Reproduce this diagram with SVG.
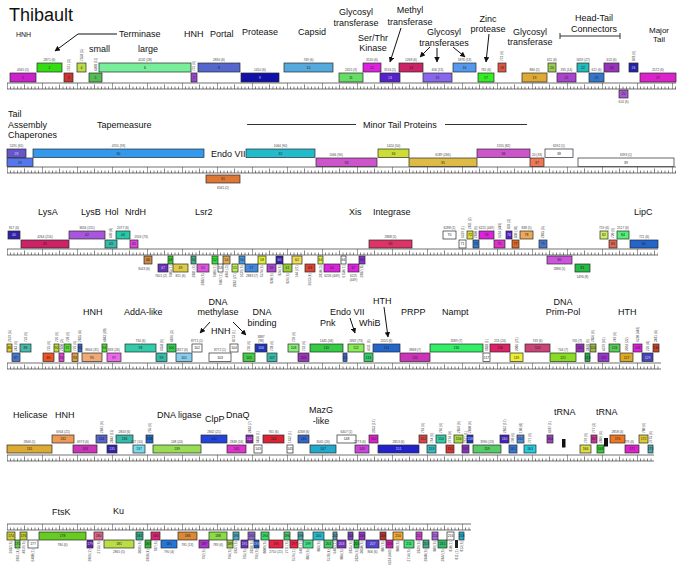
<svg xmlns="http://www.w3.org/2000/svg" width="683" height="576" viewBox="0 0 683 576">
<style>
text{font-family:"Liberation Sans",Arial,sans-serif}
.b{stroke:#2a2a2a;stroke-width:.7}
.n{font-size:3.4px;text-anchor:middle;fill:#222}
.nw{font-size:3.4px;text-anchor:middle;fill:#ddd}
.l{font-size:3.2px;text-anchor:middle;fill:#444}
.v{font-size:3.2px;fill:#444}
.vd{font-size:3.2px;fill:#444;text-anchor:end}
.t{font-size:9px;fill:#111}
.tm{font-size:9px;fill:#111;text-anchor:middle}
.ar{stroke:#111;stroke-width:1;fill:none;marker-end:url(#ah)}
.ln{stroke:#333;stroke-width:1;fill:none}
.rl{stroke:#333;stroke-width:.7;fill:none}
</style>
<defs>
<marker id="ah" viewBox="0 0 10 10" refX="9" refY="5" markerWidth="5.5" markerHeight="5.5" orient="auto"><path d="M0 0L10 5L0 10z" fill="#111"/></marker>
<pattern id="tk" x="7" y="0" width="35" height="6" patternUnits="userSpaceOnUse"><path d="M0.3 0V6M17.5 1.5V6M3.5 3.5V6M7 3.5V6M10.5 3.5V6M14 3.5V6M21 3.5V6M24.5 3.5V6M28 3.5V6M31.5 3.5V6" stroke="#333" stroke-width=".6"/></pattern>
</defs>
<rect width="683" height="576" fill="#fff"/>

<g id="labels">
<text x="9" y="21" style="font-size:18px;fill:#111">Thibault</text>
<text x="16" y="37" style="font-size:7px;fill:#111">HNH</text>
<text class="t" x="119" y="37">Terminase</text>
<text class="t" x="89" y="52">small</text>
<text class="t" x="138" y="52">large</text>
<text class="t" x="184" y="37">HNH</text>
<text class="t" x="210" y="37">Portal</text>
<text class="t" x="242" y="35">Protease</text>
<text class="t" x="298" y="35">Capsid</text>
<text class="tm" x="356" y="15">Glycosyl</text><text class="tm" x="356" y="26">transferase</text>
<text class="tm" x="373" y="41">Ser/Thr</text><text class="tm" x="373" y="51">Kinase</text>
<text class="tm" x="410" y="13">Methyl</text><text class="tm" x="410" y="25">transferase</text>
<text class="tm" x="444" y="35">Glycosyl</text><text class="tm" x="444" y="46">transferases</text>
<text class="tm" x="488" y="22">Zinc</text><text class="tm" x="488" y="32">protease</text>
<text class="tm" x="530" y="35">Glycosyl</text><text class="tm" x="530" y="45">transferase</text>
<text class="tm" x="594" y="21">Head-Tail</text><text class="tm" x="594" y="32">Connectors</text>
<path class="ln" d="M560 36H620M560 33V39M620 33V39"/>
<text x="659" y="33" style="font-size:8px;fill:#111;text-anchor:middle">Major</text><text x="659" y="42" style="font-size:8px;fill:#111;text-anchor:middle">Tail</text>

<text class="t" x="8" y="117">Tail</text><text class="t" x="8" y="128">Assembly</text><text class="t" x="8" y="138">Chaperones</text>
<text class="t" x="97" y="128">Tapemeasure</text>
<path class="ln" d="M247 124.5H356M445 124.5H527"/>
<text class="t" x="363" y="128">Minor Tail Proteins</text>
<text class="t" x="211" y="157">Endo VII</text>

<text class="t" x="38" y="215">LysA</text>
<text class="t" x="81" y="215">LysB</text>
<text class="t" x="105" y="215">Hol</text>
<text class="t" x="125" y="215">NrdH</text>
<text class="t" x="195" y="215">Lsr2</text>
<text class="t" x="349" y="215">Xis</text>
<text class="t" x="373" y="215">Integrase</text>
<text class="t" x="634" y="215">LipC</text>

<text class="t" x="83" y="315">HNH</text>
<text class="t" x="124" y="315">AddA-like</text>
<text class="tm" x="218" y="305">DNA</text><text class="tm" x="218" y="315">methylase</text>
<text class="t" x="211" y="334">HNH</text>
<text class="tm" x="262" y="315">DNA</text><text class="tm" x="262" y="326">binding</text>
<text class="t" x="330" y="315">Endo VII</text>
<text class="t" x="320" y="326">Pnk</text>
<text class="t" x="359" y="326">WhiB</text>
<text class="t" x="373" y="304">HTH</text>
<text class="t" x="401" y="315">PRPP</text>
<text class="t" x="442" y="315">Nampt</text>
<text class="tm" x="563" y="305">DNA</text><text class="tm" x="563" y="315">Prim-Pol</text>
<text class="t" x="618" y="315">HTH</text>

<text class="t" x="13" y="418">Helicase</text>
<text class="t" x="55" y="418">HNH</text>
<text class="t" x="157" y="418">DNA ligase</text>
<text class="t" x="205" y="422">ClpP</text>
<text class="t" x="226" y="418">DnaQ</text>
<text class="tm" x="321" y="413">MazG</text><text class="tm" x="321" y="424">-like</text>
<text class="t" x="554" y="415">tRNA</text>
<text class="t" x="596" y="415">tRNA</text>

<text class="t" x="52" y="515">FtsK</text>
<text class="t" x="113" y="514">Ku</text>
</g>

<g id="connectors">
<path class="ar" d="M117 34H78L55 51"/>
<path class="ar" d="M401 28L390 62"/>
<path class="ar" d="M430 47L420 57"/>
<path class="ar" d="M437 48V62"/>
<path class="ar" d="M453 47L465 57"/>
<path class="ar" d="M489 34L486 62"/>
<path class="ar" d="M210 322L200 333"/>
<path class="ar" d="M233 322L246 335"/>
<path class="ar" d="M350 318L355 333"/>
<path class="ar" d="M384 307L388 337"/>
</g>

<g id="rulers">
<g transform="translate(0,83)"><rect x="7" width="669" height="6" fill="url(#tk)"/><path class="rl" d="M7 0H676M7 6H676"/></g>
<g transform="translate(0,167)"><rect x="7" width="669" height="6" fill="url(#tk)"/><path class="rl" d="M7 0H676M7 6H676"/></g>
<g transform="translate(0,249)"><rect x="7" width="651" height="6" fill="url(#tk)"/><path class="rl" d="M7 0H658M7 6H658"/></g>
<g transform="translate(0,363)"><rect x="7" width="654" height="6" fill="url(#tk)"/><path class="rl" d="M7 0H661M7 6H661"/></g>
<g transform="translate(0,455)"><rect x="7" width="647" height="6" fill="url(#tk)"/><path class="rl" d="M7 0H654M7 6H654"/></g>
<g transform="translate(0,524)"><rect x="7" width="464" height="6" fill="url(#tk)"/><path class="rl" d="M7 0H471M7 6H471"/></g>
</g>

<g id="g1"><rect class="b" x="10" y="73" width="26" height="9" fill="#cc22cc"/><text class="n" x="23" y="78.7">1</text><text class="l" x="23" y="71">4345 (5)</text></g>
<g id="g2"><rect class="b" x="37" y="63" width="25" height="9" fill="#33dd11"/><text class="n" x="49.5" y="68.7">2</text><text class="l" x="49.5" y="61">2871 (6)</text></g>
<g id="g3"><rect class="b" x="64" y="73" width="9" height="9" fill="#cc3333"/><text class="n" x="68.5" y="78.7">3</text><text class="v" transform="translate(69.7,71) rotate(-90)">7571 (3)</text></g>
<g id="g4"><rect class="b" x="77" y="63" width="9" height="9" fill="#bbdd44"/><text class="n" x="81.5" y="68.7">4</text><text class="v" transform="translate(82.7,61) rotate(-90)">7558 (5)</text></g>
<g id="g5"><rect class="b" x="89" y="73" width="13" height="9" fill="#55bb55"/><text class="n" x="95.5" y="78.7">5</text><text class="v" transform="translate(96.7,71) rotate(-90)">4208 (11)</text></g>
<g id="g6"><rect class="b" x="99" y="63" width="92" height="9" fill="#77ee99"/><text class="n" x="145" y="68.7">6</text><text class="l" x="145" y="61">4132 (28)</text></g>
<g id="g7"><rect class="b" x="191" y="73" width="6" height="9" fill="#9944cc"/><text class="n" x="194" y="78.7">7</text><text class="v" transform="translate(195.2,71) rotate(-90)">731 (6)</text></g>
<g id="g8"><rect class="b" x="198" y="63" width="42" height="9" fill="#5566cc"/><text class="n" x="219" y="68.7">8</text><text class="l" x="219" y="61">2830 (6)</text></g>
<g id="g9"><rect class="b" x="241" y="73" width="38" height="9" fill="#1111aa"/><text class="nw" x="260" y="78.7">9</text><text class="l" x="260" y="71">1450 (6)</text></g>
<g id="g10"><rect class="b" x="284" y="63" width="49" height="9" fill="#55aadd"/><text class="n" x="308.5" y="68.7">10</text><text class="l" x="308.5" y="61">749 (6)</text></g>
<g id="g11"><rect class="b" x="339" y="73" width="24" height="9" fill="#66dd66"/><text class="n" x="351" y="78.7">11</text><text class="l" x="351" y="71">2455 (3)</text></g>
<g id="g12"><rect class="b" x="363" y="63" width="18" height="9" fill="#dd22dd"/><text class="n" x="372" y="68.7">12</text><text class="l" x="372" y="61">3130 (6)</text></g>
<g id="g13"><rect class="b" x="380" y="73" width="20" height="9" fill="#5522cc"/><text class="nw" x="390" y="78.7">13</text><text class="l" x="390" y="71">3156 (5)</text></g>
<g id="g14"><rect class="b" x="399" y="63" width="24" height="9" fill="#cc2266"/><text class="n" x="411" y="68.7">14</text><text class="l" x="411" y="61">1268 (6)</text></g>
<g id="g15"><rect class="b" x="423" y="73" width="29" height="9" fill="#8866ee"/><text class="n" x="437.5" y="78.7">15</text><text class="l" x="437.5" y="71">456 (13)</text></g>
<g id="g16"><rect class="b" x="453" y="63" width="23" height="9" fill="#5599ee"/><text class="n" x="464.5" y="68.7">16</text><text class="l" x="464.5" y="61">1876 (13)</text></g>
<g id="g17"><rect class="b" x="478" y="73" width="16" height="9" fill="#33ee22"/><text class="n" x="486" y="78.7">17</text><text class="l" x="486" y="71">765 (6)</text></g>
<g id="g18"><rect class="b" x="498" y="63" width="8" height="9" fill="#dd5544"/><text class="n" x="502" y="68.7">18</text><text class="v" transform="translate(503.2,61) rotate(-90)">773 (6)</text></g>
<g id="g19"><rect class="b" x="522" y="73" width="25" height="9" fill="#ddaa33"/><text class="n" x="534.5" y="78.7">19</text><text class="l" x="534.5" y="71">884 (5)</text></g>
<g id="g20"><rect class="b" x="548" y="63" width="8" height="9" fill="#99cc55"/><text class="n" x="552" y="68.7">20</text><text class="l" x="552" y="61">611 (6)</text></g>
<g id="g21"><rect class="b" x="557" y="73" width="19" height="9" fill="#aa44cc"/><text class="n" x="566.5" y="78.7">21</text><text class="l" x="566.5" y="71">335 (14)</text></g>
<g id="g22"><rect class="b" x="577" y="63" width="12" height="9" fill="#22bbbb"/><text class="n" x="583" y="68.7">22</text><text class="l" x="583" y="61">1659 (27)</text></g>
<g id="g23"><rect class="b" x="589" y="73" width="15" height="9" fill="#3377cc"/><text class="n" x="596.5" y="78.7">23</text><text class="l" x="596.5" y="71">612 (6)</text></g>
<g id="g24"><rect class="b" x="604" y="63" width="15" height="9" fill="#9933bb"/><text class="n" x="611.5" y="68.7">24</text><text class="l" x="611.5" y="61">613 (6)</text></g>
<g id="g25"><rect class="b" x="619" y="90" width="9" height="8" fill="#aa55cc"/><text class="n" x="623.5" y="95.2">25</text><text class="l" x="623.5" y="102.5">614 (6)</text></g>
<g id="g26"><rect class="b" x="629" y="63" width="9" height="9" fill="#2222aa"/><text class="nw" x="633.5" y="68.7">26</text><text class="v" transform="translate(634.7,61) rotate(-90)">878 (6)</text></g>
<g id="g27"><rect class="b" x="640" y="73" width="36" height="9" fill="#dd22cc"/><text class="n" x="658" y="78.7">27</text><text class="l" x="658" y="71">2572 (6)</text></g>

<g id="g28"><rect class="b" x="7" y="149" width="19" height="8.5" fill="#6655cc"/><text class="nw" x="16.5" y="154.5">28</text><text class="l" x="16.5" y="147">5291 (65)</text></g>
<g id="g29"><rect class="b" x="7" y="158" width="26" height="8.5" fill="#5577ee"/><text class="n" x="20" y="163.5">29</text></g>
<g id="g30"><rect class="b" x="33" y="149" width="171" height="8.5" fill="#3399ee"/><text class="n" x="118.5" y="154.5">30</text><text class="l" x="118.5" y="147">4701 (93)</text></g>
<g id="g31"><rect class="b" x="206" y="175" width="34" height="8" fill="#dd7733"/><text class="n" x="223" y="180.2">31</text><text class="l" x="223" y="188.5">6565 (2)</text></g>
<g id="g32"><rect class="b" x="246" y="149" width="69" height="8.5" fill="#22bbcc"/><text class="n" x="280.5" y="154.5">32</text><text class="l" x="280.5" y="147">1064 (90)</text></g>
<g id="g33"><rect class="b" x="316" y="158" width="61" height="8.5" fill="#cc55cc"/><text class="n" x="346.5" y="163.5">33</text><text class="l" x="336" y="156">1066 (90)</text></g>
<g id="g34"><rect class="b" x="378" y="149" width="31" height="8.5" fill="#ccdd33"/><text class="n" x="393.5" y="154.5">34</text><text class="l" x="393.5" y="147">1424 (50)</text></g>
<g id="g35"><rect class="b" x="409" y="158" width="68" height="8.5" fill="#ddbb44"/><text class="n" x="443" y="163.5">35</text><text class="l" x="443" y="156">6189 (266)</text></g>
<g id="g36"><rect class="b" x="477" y="149" width="53" height="8.5" fill="#cc55cc"/><text class="n" x="503.5" y="154.5">36</text><text class="l" x="503.5" y="147">1555 (82)</text></g>
<g id="g37"><rect class="b" x="530" y="158" width="14" height="8.5" fill="#ee7755"/><text class="n" x="537" y="163.5">37</text><text class="l" x="537" y="156">20 (33)</text></g>
<g id="g38"><rect class="b" x="545" y="149" width="28" height="8.5" fill="#fff"/><text class="n" x="559" y="154.5">38</text><text class="l" x="559" y="147">6592 (1)</text></g>
<g id="g39"><rect class="b" x="578" y="158" width="96" height="8.5" fill="#fff"/><text class="n" x="626" y="163.5">39</text><text class="l" x="626" y="156">6393 (1)</text></g>

<g id="g40"><rect class="b" x="8" y="231" width="12" height="8" fill="#3322aa"/><text class="nw" x="14" y="236.2">40</text><text class="l" x="14" y="229">817 (6)</text></g>
<g id="g41"><rect class="b" x="21" y="240" width="48" height="8" fill="#cc2266"/><text class="n" x="45" y="245.2">41</text><text class="l" x="45" y="238">4264 (216)</text></g>
<g id="g42"><rect class="b" x="69" y="231" width="36" height="8" fill="#aa55dd"/><text class="n" x="87" y="236.2">42</text><text class="l" x="87" y="229">3634 (155)</text></g>
<g id="g43"><rect class="b" x="105" y="240" width="12" height="8" fill="#33bbaa"/><text class="n" x="111" y="245.2">43</text><text class="v" transform="translate(112.2,238) rotate(-90)">470 (8)</text></g>
<g id="g44"><rect class="b" x="116" y="231" width="14" height="8" fill="#22ccaa"/><text class="n" x="123" y="236.2">44</text><text class="l" x="123" y="229">2077 (6)</text></g>
<g id="g45"><rect class="b" x="130" y="240" width="8" height="8" fill="#dd44dd"/><text class="n" x="134" y="245.2">45</text><text class="l" x="141" y="238">1924 (73)</text></g>
<g id="g46"><rect class="b" x="144" y="256" width="8" height="8" fill="#cc8844"/><text class="n" x="148" y="261.2">46</text><text class="l" x="144" y="269.5">3043 (6)</text></g>
<g id="g47"><rect class="b" x="158" y="264" width="10" height="8" fill="#6633bb"/><text class="nw" x="163" y="269.2">47</text><text class="l" x="161" y="276.5">7601 (2)</text></g>
<g id="g48"><rect class="b" x="168" y="256" width="5" height="8" fill="#33cc33"/><text class="n" x="170.5" y="261.2">48</text><text class="vd" transform="translate(171.7,265.5) rotate(-90)">7605 (1)</text></g>
<g id="g49"><rect class="b" x="173" y="264" width="15" height="8" fill="#ddcc44"/><text class="n" x="180.5" y="269.2">49</text><text class="l" x="180.5" y="276.5">821 (6)</text></g>
<g id="g50"><rect class="b" x="191" y="256" width="5" height="8" fill="#44aa88"/><text class="n" x="193.5" y="261.2">50</text><text class="vd" transform="translate(194.7,265.5) rotate(-90)">2881 (6)</text></g>
<g id="g51"><rect class="b" x="197" y="264" width="12" height="8" fill="#dd55dd"/><text class="n" x="203" y="269.2">51</text><text class="vd" transform="translate(204.2,273.5) rotate(-90)">2882 (6)</text></g>
<g id="g52"><rect class="b" x="212" y="256" width="6" height="8" fill="#33dd33"/><text class="n" x="215" y="261.2">52</text><text class="vd" transform="translate(216.2,265.5) rotate(-90)">7606 (1)</text></g>
<g id="g53"><rect class="b" x="218" y="264" width="5" height="8" fill="#fff"/><text class="n" x="220.5" y="269.2">53</text><text class="vd" transform="translate(221.7,273.5) rotate(-90)">7607 (1)</text></g>
<g id="g54"><rect class="b" x="223" y="256" width="7" height="8" fill="#ddaa55"/><text class="n" x="226.5" y="261.2">54</text><text class="vd" transform="translate(227.7,265.5) rotate(-90)">4861 (3)</text></g>
<g id="g55"><rect class="b" x="232" y="264" width="6" height="8" fill="#bbee55"/><text class="n" x="235" y="269.2">55</text><text class="vd" transform="translate(236.2,273.5) rotate(-90)">2882 (27)</text></g>
<g id="g56"><rect class="b" x="239" y="256" width="6" height="8" fill="#4499dd"/><text class="n" x="242" y="261.2">56</text><text class="vd" transform="translate(243.2,265.5) rotate(-90)">1639 (6)</text></g>
<g id="g57"><rect class="b" x="245" y="264" width="13" height="8" fill="#4488dd"/><text class="n" x="251.5" y="269.2">57</text><text class="l" x="252" y="276.5">2883 (7)</text></g>
<g id="g58"><rect class="b" x="258" y="256" width="8" height="8" fill="#ddee33"/><text class="n" x="262" y="261.2">58</text><text class="vd" transform="translate(263.2,265.5) rotate(-90)">7574 (6)</text></g>
<g id="g59"><rect class="b" x="267" y="264" width="9" height="8" fill="#aa44cc"/><text class="n" x="271.5" y="269.2">59</text><text class="vd" transform="translate(272.7,273.5) rotate(-90)">820 (6)</text></g>
<g id="g60"><rect class="b" x="276" y="256" width="7" height="8" fill="#3322aa"/><text class="nw" x="279.5" y="261.2">60</text><text class="vd" transform="translate(280.7,265.5) rotate(-90)">824 (6)</text></g>
<g id="g61"><rect class="b" x="283" y="264" width="9" height="8" fill="#99cc33"/><text class="n" x="287.5" y="269.2">61</text><text class="vd" transform="translate(288.7,273.5) rotate(-90)">826 (6)</text></g>
<g id="g62"><rect class="b" x="292" y="256" width="10" height="8" fill="#eedd55"/><text class="n" x="297" y="261.2">62</text><text class="vd" transform="translate(298.2,265.5) rotate(-90)">144 (21)</text></g>
<g id="g63"><rect class="b" x="305" y="264" width="10" height="8" fill="#dd4433"/><text class="n" x="310" y="269.2">63</text><text class="vd" transform="translate(311.2,273.5) rotate(-90)">3623 (4)</text></g>
<g id="g64"><rect class="b" x="318" y="256" width="5" height="8" fill="#ddee44"/><text class="n" x="320.5" y="261.2">64</text><text class="vd" transform="translate(321.7,265.5) rotate(-90)">2810 (3)</text></g>
<g id="g65"><rect class="b" x="324" y="264" width="16" height="8" fill="#dd22dd"/><text class="n" x="332" y="269.2">65</text><text class="l" x="332" y="276.5">6226 (449)</text></g>
<g id="g66"><rect class="b" x="341" y="256" width="5" height="8" fill="#fff"/><text class="n" x="343.5" y="261.2">66</text><text class="vd" transform="translate(344.7,265.5) rotate(-90)">6750 (1)</text></g>
<g id="g67"><rect class="b" x="348" y="264" width="11" height="8" fill="#dd22dd"/><text class="n" x="353.5" y="269.2">67</text><text class="l" x="353.5" y="276.5">6225</text><text class="l" x="353.5" y="280.5">(449)</text></g>
<g id="g68"><rect class="b" x="359" y="256" width="6" height="8" fill="#8833cc"/><text class="n" x="362" y="261.2">68</text><text class="vd" transform="translate(363.2,265.5) rotate(-90)">2887 (8)</text></g>
<g id="g69"><rect class="b" x="369" y="240" width="43" height="8" fill="#dd3366"/><text class="n" x="390.5" y="245.2">69</text><text class="l" x="390.5" y="238">2888 (5)</text></g>
<g id="g70"><rect class="b" x="443" y="231" width="13" height="8" fill="#fff"/><text class="n" x="449.5" y="236.2">70</text><text class="l" x="449.5" y="229">6288 (1)</text></g>
<g id="g71"><rect class="b" x="459" y="240" width="7" height="8" fill="#fff"/><text class="n" x="462.5" y="245.2">71</text><text class="v" transform="translate(463.7,238) rotate(-90)">6239 (1)</text></g>
<g id="g72"><rect class="b" x="467" y="231" width="6" height="8" fill="#dddd33"/><text class="n" x="470" y="236.2">72</text><text class="v" transform="translate(471.2,229) rotate(-90)">2811 (2)</text></g>
<g id="g73"><rect class="b" x="473" y="240" width="6" height="8" fill="#3377cc"/><text class="n" x="476" y="245.2">73</text><text class="v" transform="translate(477.2,238) rotate(-90)">2890 (6)</text></g>
<g id="g74"><rect class="b" x="479" y="231" width="15" height="8" fill="#dd22dd"/><text class="n" x="486.5" y="236.2">74</text><text class="l" x="486.5" y="229">6225 (449)</text></g>
<g id="g75"><rect class="b" x="494" y="240" width="11" height="8" fill="#dd33cc"/><text class="n" x="499.5" y="245.2">75</text><text class="v" transform="translate(500.7,238) rotate(-90)">6224 (449)</text></g>
<g id="g76"><rect class="b" x="506" y="231" width="6" height="8" fill="#5522cc"/><text class="nw" x="509" y="236.2">76</text><text class="v" transform="translate(510.2,229) rotate(-90)">839 (3)</text></g>
<g id="g77"><rect class="b" x="512" y="240" width="7" height="8" fill="#dd6622"/><text class="n" x="515.5" y="245.2">77</text><text class="v" transform="translate(516.7,238) rotate(-90)">830 (18)</text></g>
<g id="g78"><rect class="b" x="520" y="231" width="13" height="8" fill="#eeaa55"/><text class="n" x="526.5" y="236.2">78</text><text class="l" x="526.5" y="229">838 (5)</text></g>
<g id="g79"><rect class="b" x="539" y="240" width="8" height="8" fill="#4477cc"/><text class="n" x="543" y="245.2">79</text><text class="v" transform="translate(544.2,238) rotate(-90)">2895 (5)</text></g>
<g id="g80"><rect class="b" x="547" y="256" width="25" height="8" fill="#cc55dd"/><text class="n" x="559.5" y="261.2">80</text><text class="l" x="559.5" y="269.5">2886 (5)</text></g>
<g id="g81"><rect class="b" x="575" y="264" width="15" height="8" fill="#22bb44"/><text class="n" x="582.5" y="269.2">81</text><text class="l" x="582.5" y="277.5">1496 (8)</text></g>
<g id="g82"><rect class="b" x="600" y="231" width="8" height="8" fill="#ccee66"/><text class="n" x="604" y="236.2">82</text><text class="l" x="604" y="229">719 (6)</text></g>
<g id="g83"><rect class="b" x="609" y="240" width="8" height="8" fill="#dd6655"/><text class="n" x="613" y="245.2">83</text><text class="v" transform="translate(614.2,238) rotate(-90)">720 (6)</text></g>
<g id="g84"><rect class="b" x="617" y="231" width="12" height="8" fill="#55ee77"/><text class="n" x="623" y="236.2">84</text><text class="l" x="623" y="229">2517 (6)</text></g>
<g id="g85"><rect class="b" x="630" y="240" width="28" height="8" fill="#2266cc"/><text class="n" x="644" y="245.2">85</text><text class="l" x="644" y="238">721 (6)</text></g>

<g id="g86"><rect class="b" x="7" y="344" width="5" height="8" fill="#ddcc33"/><text class="n" x="9.5" y="349.2">86</text><text class="v" transform="translate(10.7,342) rotate(-90)">2619 (5)</text></g>
<g id="g87"><rect class="b" x="12" y="353" width="8" height="8.5" fill="#4477cc"/><text class="n" x="16" y="358.5">87</text><text class="v" transform="translate(17.2,351) rotate(-90)">243 (6)</text></g>
<g id="g88"><rect class="b" x="20" y="344" width="11" height="8" fill="#44bbaa"/><text class="n" x="25.5" y="349.2">88</text><text class="v" transform="translate(26.7,342) rotate(-90)">723 (6)</text></g>
<g id="g89"><rect class="b" x="43" y="353" width="11" height="8.5" fill="#ee5522"/><text class="n" x="48.5" y="358.5">89</text><text class="v" transform="translate(49.7,351) rotate(-90)">725 (6)</text></g>
<g id="g90"><rect class="b" x="54" y="344" width="5" height="8" fill="#bbdd33"/><text class="n" x="56.5" y="349.2">90</text><text class="v" transform="translate(57.7,342) rotate(-90)">726 (6)</text></g>
<g id="g91"><rect class="b" x="59" y="353" width="5" height="8.5" fill="#dd44cc"/><text class="n" x="61.5" y="358.5">91</text><text class="v" transform="translate(62.7,351) rotate(-90)">2820 (3)</text></g>
<g id="g92"><rect class="b" x="64" y="344" width="7" height="8" fill="#55dd33"/><text class="n" x="67.5" y="349.2">92</text><text class="v" transform="translate(68.7,342) rotate(-90)">728 (6)</text></g>
<g id="g93"><rect class="b" x="72" y="353" width="6" height="8.5" fill="#dd9944"/><text class="n" x="75" y="358.5">93</text><text class="v" transform="translate(76.2,351) rotate(-90)">729 (6)</text></g>
<g id="g94"><rect class="b" x="78" y="344" width="4" height="8" fill="#3366cc"/><text class="n" x="80" y="349.2">94</text><text class="v" transform="translate(81.2,342) rotate(-90)">2825 (4)</text></g>
<g id="g95"><rect class="b" x="82" y="353" width="20" height="8.5" fill="#eeaa77"/><text class="n" x="92" y="358.5">95</text><text class="l" x="92" y="351">8844 (31)</text></g>
<g id="g96"><rect class="b" x="102" y="344" width="5" height="8" fill="#55dd33"/><text class="n" x="104.5" y="349.2">96</text><text class="v" transform="translate(105.7,342) rotate(-90)">4843 (20)</text></g>
<g id="g97"><rect class="b" x="107" y="353" width="14" height="8.5" fill="#ee66ee"/><text class="n" x="114" y="358.5">97</text><text class="l" x="114" y="351">833 (26)</text></g>
<g id="g98"><rect class="b" x="125" y="344" width="31" height="8" fill="#33ccaa"/><text class="n" x="140.5" y="349.2">98</text><text class="l" x="140.5" y="342">734 (6)</text></g>
<g id="g99"><rect class="b" x="156" y="353" width="11" height="8.5" fill="#33bbaa"/><text class="n" x="161.5" y="358.5">99</text><text class="v" transform="translate(162.7,351) rotate(-90)">6558 (6)</text></g>
<g id="g100"><rect class="b" x="167" y="344" width="9" height="8" fill="#33cc55"/><text class="n" x="171.5" y="349.2">100</text><text class="v" transform="translate(172.7,342) rotate(-90)">4876 (3)</text></g>
<g id="g101"><rect class="b" x="176" y="353" width="16" height="8.5" fill="#88ccee"/><text class="n" x="184" y="358.5">101</text><text class="l" x="182" y="351">2827 (6)</text></g>
<g id="g102"><rect class="b" x="192" y="344" width="10" height="8" fill="#fff"/><text class="n" x="197" y="349.2">102</text><text class="l" x="197" y="342">8771 (1)</text></g>
<g id="g103"><rect class="b" x="209" y="353" width="22" height="8.5" fill="#fff"/><text class="n" x="220" y="358.5">103</text><text class="l" x="220" y="351">8772 (1)</text></g>
<g id="g104"><rect class="b" x="230" y="344" width="8" height="8" fill="#fff"/><text class="n" x="234" y="349.2">104</text><text class="v" transform="translate(235.2,342) rotate(-90)">8773 (1)</text></g>
<g id="g105"><rect class="b" x="243" y="353" width="12" height="8.5" fill="#44cc44"/><text class="n" x="249" y="358.5">105</text><text class="v" transform="translate(250.2,351) rotate(-90)">736 (6)</text></g>
<g id="g106"><rect class="b" x="255" y="344" width="12" height="8" fill="#2233bb"/><text class="nw" x="261" y="349.2">106</text><text class="l" x="261" y="337.5">3887</text><text class="l" x="261" y="342">(98)</text></g>
<g id="g107"><rect class="b" x="267" y="353" width="10" height="8.5" fill="#33bbaa"/><text class="n" x="272" y="358.5">107</text><text class="v" transform="translate(273.2,351) rotate(-90)">738 (6)</text></g>
<g id="g108"><rect class="b" x="288" y="344" width="11" height="8" fill="#88ee77"/><text class="n" x="293.5" y="349.2">108</text><text class="v" transform="translate(294.7,342) rotate(-90)">739 (6)</text></g>
<g id="g109"><rect class="b" x="298" y="353" width="11" height="8.5" fill="#9933bb"/><text class="n" x="303.5" y="358.5">109</text><text class="v" transform="translate(304.7,351) rotate(-90)">732 (6)</text></g>
<g id="g110"><rect class="b" x="310" y="344" width="33" height="8" fill="#33cc44"/><text class="n" x="326.5" y="349.2">110</text><text class="l" x="326.5" y="342">1445 (34)</text></g>
<g id="g111"><rect class="b" x="343" y="353" width="4" height="8.5" fill="#3366cc"/><text class="n" x="345" y="358.5">111</text></g>
<g id="g112"><rect class="b" x="348" y="344" width="16" height="8" fill="#88ee55"/><text class="n" x="356" y="349.2">112</text><text class="l" x="356" y="342">1832 (73)</text></g>
<g id="g113"><rect class="b" x="364" y="353" width="9" height="8.5" fill="#33cc66"/><text class="n" x="368.5" y="358.5">113</text><text class="v" transform="translate(369.7,351) rotate(-90)">4311 (6)</text></g>
<g id="g114"><rect class="b" x="373" y="344" width="27" height="8" fill="#2266cc"/><text class="n" x="386.5" y="349.2">114</text><text class="l" x="386.5" y="342">2555 (6)</text></g>
<g id="g115"><rect class="b" x="400" y="353" width="30" height="8.5" fill="#cc33bb"/><text class="n" x="415" y="358.5">115</text><text class="l" x="415" y="351">3868 (7)</text></g>
<g id="g116"><rect class="b" x="430" y="344" width="53" height="8" fill="#33ee66"/><text class="n" x="456.5" y="349.2">116</text><text class="l" x="456.5" y="342">3589 (7)</text></g>
<g id="g117"><rect class="b" x="483" y="353" width="7" height="8.5" fill="#fff"/><text class="n" x="486.5" y="358.5">117</text><text class="v" transform="translate(487.7,351) rotate(-90)">6838 (1)</text></g>
<g id="g118"><rect class="b" x="490" y="344" width="20" height="8" fill="#dd2266"/><text class="n" x="500" y="349.2">118</text><text class="l" x="500" y="342">253 (24)</text></g>
<g id="g119"><rect class="b" x="510" y="353" width="13" height="8.5" fill="#eeee33"/><text class="n" x="516.5" y="358.5">119</text><text class="v" transform="translate(517.7,351) rotate(-90)">2086 (21)</text></g>
<g id="g120"><rect class="b" x="525" y="344" width="25" height="8" fill="#cc4477"/><text class="n" x="537.5" y="349.2">120</text><text class="l" x="537.5" y="342">743 (6)</text></g>
<g id="g121"><rect class="b" x="550" y="353" width="26" height="8.5" fill="#88dd22"/><text class="n" x="563" y="358.5">121</text><text class="l" x="563" y="351">744 (7)</text></g>
<g id="g122"><rect class="b" x="576" y="344" width="8" height="8" fill="#9933bb"/><text class="n" x="580" y="349.2">122</text><text class="l" x="577" y="342">745 (7)</text></g>
<g id="g123"><rect class="b" x="585" y="353" width="5" height="8.5" fill="#22aa44"/><text class="n" x="587.5" y="358.5">123</text><text class="v" transform="translate(588.7,351) rotate(-90)">3468 (6)</text></g>
<g id="g124"><rect class="b" x="590" y="344" width="6" height="8" fill="#99bb44"/><text class="n" x="593" y="349.2">124</text><text class="v" transform="translate(594.2,342) rotate(-90)">2856 (6)</text></g>
<g id="g125"><rect class="b" x="598" y="353" width="11" height="8.5" fill="#9933cc"/><text class="n" x="603.5" y="358.5">125</text><text class="v" transform="translate(604.7,351) rotate(-90)">4379 (61)</text></g>
<g id="g126"><rect class="b" x="609" y="344" width="11" height="8" fill="#55cc55"/><text class="n" x="614.5" y="349.2">126</text><text class="v" transform="translate(615.7,342) rotate(-90)">749 (6)</text></g>
<g id="g127"><rect class="b" x="620" y="353" width="13" height="8.5" fill="#ddaa22"/><text class="n" x="626.5" y="358.5">127</text><text class="v" transform="translate(627.7,351) rotate(-90)">2074 (32)</text></g>
<g id="g128"><rect class="b" x="633" y="344" width="9" height="8" fill="#dd22dd"/><text class="n" x="637.5" y="349.2">128</text><text class="v" transform="translate(638.7,342) rotate(-90)">6220 (449)</text></g>
<g id="g129"><rect class="b" x="642" y="353" width="11" height="8.5" fill="#4444bb"/><text class="nw" x="647.5" y="358.5">129</text><text class="v" transform="translate(648.7,351) rotate(-90)">226 (8)</text></g>
<g id="g130"><rect class="b" x="653" y="344" width="6" height="8" fill="#cc4422"/><text class="n" x="656" y="349.2">130</text><text class="v" transform="translate(657.2,342) rotate(-90)">3481 (4)</text></g>

<g id="g131"><rect class="b" x="7" y="445" width="45" height="8" fill="#ddaa33"/><text class="n" x="29.5" y="450.2">131</text><text class="l" x="29.5" y="443">2846 (5)</text></g>
<g id="g132"><rect class="b" x="52" y="435" width="22" height="8" fill="#ee9955"/><text class="n" x="63" y="440.2">132</text><text class="l" x="63" y="433">6944 (21)</text></g>
<g id="g133"><rect class="b" x="73" y="445" width="24" height="8" fill="#cc33bb"/><text class="n" x="85" y="450.2">133</text><text class="l" x="83" y="443">6973 (6)</text></g>
<g id="g134"><rect class="b" x="96" y="435" width="11" height="8" fill="#5566cc"/><text class="n" x="101.5" y="440.2">134</text><text class="v" transform="translate(102.7,433) rotate(-90)">2841 (6)</text></g>
<g id="g135"><rect class="b" x="107" y="445" width="10" height="8" fill="#3322aa"/><text class="nw" x="112" y="450.2">135</text><text class="v" transform="translate(113.2,443) rotate(-90)">3842 (11)</text></g>
<g id="g136"><rect class="b" x="116" y="435" width="17" height="8" fill="#33bbaa"/><text class="n" x="124.5" y="440.2">136</text><text class="l" x="124.5" y="433">2843 (6)</text></g>
<g id="g137"><rect class="b" x="133" y="445" width="12" height="8" fill="#77ddee"/><text class="n" x="139" y="450.2">137</text><text class="l" x="137" y="443">927 (10)</text></g>
<g id="g138"><rect class="b" x="146" y="435" width="7" height="8" fill="#2266cc"/><text class="n" x="149.5" y="440.2">138</text><text class="v" transform="translate(150.7,433) rotate(-90)">755 (6)</text></g>
<g id="g139"><rect class="b" x="153" y="445" width="48" height="8" fill="#99dd55"/><text class="n" x="177" y="450.2">139</text><text class="l" x="177" y="443">248 (24)</text></g>
<g id="g140"><rect class="b" x="201" y="435" width="26" height="8" fill="#2244dd"/><text class="n" x="214" y="440.2">140</text><text class="l" x="214" y="433">2842 (21)</text></g>
<g id="g141"><rect class="b" x="227" y="445" width="19" height="8" fill="#dd33cc"/><text class="n" x="236.5" y="450.2">141</text><text class="l" x="236.5" y="443">2848 (16)</text></g>
<g id="g142"><rect class="b" x="246" y="435" width="7" height="8" fill="#8822aa"/><text class="nw" x="249.5" y="440.2">142</text><text class="v" transform="translate(250.7,433) rotate(-90)">2483 (7)</text></g>
<g id="g143"><rect class="b" x="254" y="445" width="8" height="8" fill="#fff"/><text class="n" x="258" y="450.2">143</text><text class="v" transform="translate(259.2,443) rotate(-90)">6456 (1)</text></g>
<g id="g144"><rect class="b" x="263" y="435" width="21" height="8" fill="#dd2233"/><text class="n" x="273.5" y="440.2">144</text><text class="l" x="273.5" y="433">761 (6)</text></g>
<g id="g145"><rect class="b" x="287" y="445" width="6" height="8" fill="#fff"/><text class="n" x="290" y="450.2">145</text><text class="v" transform="translate(291.2,443) rotate(-90)">1632 (1)</text></g>
<g id="g146"><rect class="b" x="298" y="435" width="11" height="8" fill="#3366cc"/><text class="n" x="303.5" y="440.2">146</text><text class="l" x="303.5" y="433">4268 (6)</text></g>
<g id="g147"><rect class="b" x="310" y="445" width="26" height="8" fill="#22aacc"/><text class="n" x="323" y="450.2">147</text><text class="l" x="323" y="443">3045 (26)</text></g>
<g id="g148"><rect class="b" x="337" y="435" width="19" height="8" fill="#fff"/><text class="n" x="346.5" y="440.2">148</text><text class="l" x="346.5" y="433">6407 (1)</text></g>
<g id="g149"><rect class="b" x="355" y="445" width="14" height="8" fill="#cc44dd"/><text class="n" x="362" y="450.2">149</text><text class="l" x="360" y="443">2773 (6)</text></g>
<g id="g150"><rect class="b" x="369" y="435" width="9" height="8" fill="#dd22cc"/><text class="n" x="373.5" y="440.2">150</text><text class="v" transform="translate(374.7,433) rotate(-90)">3953 (17)</text></g>
<g id="g151"><rect class="b" x="378" y="445" width="41" height="8" fill="#2222cc"/><text class="nw" x="398.5" y="450.2">151</text><text class="l" x="398.5" y="443">2853 (6)</text></g>
<g id="g152"><rect class="b" x="419" y="435" width="8" height="8" fill="#dd4444"/><text class="n" x="423" y="440.2">152</text><text class="v" transform="translate(424.2,433) rotate(-90)">763 (6)</text></g>
<g id="g153"><rect class="b" x="427" y="445" width="9" height="8" fill="#33bbbb"/><text class="n" x="431.5" y="450.2">153</text><text class="v" transform="translate(432.7,443) rotate(-90)">764 (6)</text></g>
<g id="g154"><rect class="b" x="436" y="435" width="10" height="8" fill="#33ccaa"/><text class="n" x="441" y="440.2">154</text><text class="v" transform="translate(442.2,433) rotate(-90)">766 (6)</text></g>
<g id="g155"><rect class="b" x="446" y="445" width="8" height="8" fill="#dd3333"/><text class="n" x="450" y="450.2">155</text><text class="v" transform="translate(451.2,443) rotate(-90)">2774 (4)</text></g>
<g id="g156"><rect class="b" x="454" y="435" width="9" height="8" fill="#aadd44"/><text class="n" x="458.5" y="440.2">156</text><text class="v" transform="translate(459.7,433) rotate(-90)">2859 (6)</text></g>
<g id="g157"><rect class="b" x="462" y="445" width="7" height="8" fill="#8833bb"/><text class="n" x="465.5" y="450.2">157</text><text class="v" transform="translate(466.7,443) rotate(-90)">7571 (1)</text></g>
<g id="g158"><rect class="b" x="467" y="435" width="6" height="8" fill="#2233cc"/><text class="nw" x="470" y="440.2">158</text><text class="v" transform="translate(471.2,433) rotate(-90)">2860 (6)</text></g>
<g id="g159"><rect class="b" x="473" y="445" width="28" height="8" fill="#55cc66"/><text class="n" x="487" y="450.2">159</text><text class="l" x="487" y="443">3990 (13)</text></g>
<g id="g160"><rect class="b" x="500" y="435" width="9" height="8" fill="#4422bb"/><text class="nw" x="504.5" y="440.2">160</text><text class="v" transform="translate(505.7,433) rotate(-90)">2862 (17)</text></g>
<g id="g161"><rect class="b" x="509" y="445" width="8" height="8" fill="#3377dd"/><text class="n" x="513" y="450.2">161</text><text class="v" transform="translate(514.2,443) rotate(-90)">770 (6)</text></g>
<g id="g162"><rect class="b" x="517" y="435" width="7" height="8" fill="#5588dd"/><text class="n" x="520.5" y="440.2">162</text><text class="v" transform="translate(521.7,433) rotate(-90)">160 (8)</text></g>
<g id="g163"><rect class="b" x="524" y="445" width="12" height="8" fill="#22ccdd"/><text class="n" x="530" y="450.2">163</text><text class="v" transform="translate(531.2,443) rotate(-90)">771 (6)</text></g>
<g id="g164"><rect class="b" x="547" y="435" width="6" height="8" fill="#9944bb"/><text class="n" x="550" y="440.2">164</text><text class="v" transform="translate(551.2,433) rotate(-90)">4187 (1)</text></g>
<g id="trna1"><rect x="562" y="439" width="3.5" height="8.5" fill="#111"/></g>
<g id="g166"><rect class="b" x="580" y="445" width="11" height="8" fill="#dddd44"/><text class="n" x="585.5" y="450.2">166</text><text class="v" transform="translate(586.7,443) rotate(-90)">776 (6)</text></g>
<g id="g167"><rect class="b" x="591" y="435" width="6" height="8" fill="#cc3399"/><text class="n" x="594" y="440.2">167</text><text class="v" transform="translate(595.2,433) rotate(-90)">777 (3)</text></g>
<g id="g168"><rect class="b" x="597" y="445" width="7" height="8" fill="#33cc33"/><text class="n" x="600.5" y="450.2">168</text><text class="v" transform="translate(601.7,443) rotate(-90)">2866 (6)</text></g>
<g id="trna2"><rect x="604" y="438" width="4" height="8.5" fill="#111"/></g>
<g id="g170"><rect class="b" x="610" y="435" width="15" height="8" fill="#ee7722"/><text class="n" x="617.5" y="440.2">170</text><text class="l" x="617.5" y="433">2858 (4)</text></g>
<g id="g171"><rect class="b" x="625" y="445" width="14" height="8" fill="#dd22cc"/><text class="n" x="632" y="450.2">171</text><text class="l" x="629" y="443">779 (6)</text></g>
<g id="g172"><rect class="b" x="639" y="435" width="9" height="8" fill="#ddcc33"/><text class="n" x="643.5" y="440.2">172</text><text class="v" transform="translate(644.7,433) rotate(-90)">780 (6)</text></g>
<g id="g173"><rect class="b" x="648" y="445" width="5" height="8" fill="#44aaaa"/><text class="n" x="650.5" y="450.2">173</text><text class="v" transform="translate(651.7,443) rotate(-90)">2775 (6)</text></g>

<g id="g174"><rect class="b" x="7" y="532" width="8" height="8" fill="#cccc33"/><text class="n" x="11" y="537.2">174</text><text class="vd" transform="translate(12.2,541.5) rotate(-90)">2682 (6)</text></g>
<g id="g175"><rect class="b" x="15" y="540" width="5" height="8" fill="#66cc44"/><text class="n" x="17.5" y="545.2">175</text><text class="vd" transform="translate(18.7,549.5) rotate(-90)">2861 (4)</text></g>
<g id="g176"><rect class="b" x="20" y="532" width="7" height="8" fill="#bbcc33"/><text class="n" x="23.5" y="537.2">176</text><text class="vd" transform="translate(24.7,541.5) rotate(-90)">4819 (6)</text></g>
<g id="g177"><rect class="b" x="28" y="540" width="10" height="8" fill="#fff"/><text class="n" x="33" y="545.2">177</text><text class="vd" transform="translate(34.2,549.5) rotate(-90)">6480 (1)</text></g>
<g id="g178"><rect class="b" x="39" y="532" width="47" height="8" fill="#66cc22"/><text class="n" x="62.5" y="537.2">178</text><text class="l" x="62.5" y="546">784 (6)</text></g>
<g id="g179"><rect class="b" x="87" y="540" width="6" height="8" fill="#6622aa"/><text class="nw" x="90" y="545.2">179</text><text class="vd" transform="translate(91.2,549.5) rotate(-90)">2866 (2)</text></g>
<g id="g180"><rect class="b" x="94" y="532" width="9" height="8" fill="#dd6688"/><text class="n" x="98.5" y="537.2">180</text><text class="vd" transform="translate(99.7,541.5) rotate(-90)">2715 (6)</text></g>
<g id="g181"><rect class="b" x="104" y="540" width="30" height="8" fill="#bbdd44"/><text class="n" x="119" y="545.2">181</text><text class="l" x="119" y="553">2865 (5)</text></g>
<g id="g182"><rect class="b" x="136" y="532" width="7" height="8" fill="#33aa88"/><text class="n" x="139.5" y="537.2">182</text><text class="vd" transform="translate(140.7,541.5) rotate(-90)">3036 (6)</text></g>
<g id="g183"><rect class="b" x="145" y="540" width="6" height="8" fill="#33bb33"/><text class="n" x="148" y="545.2">183</text><text class="vd" transform="translate(149.2,549.5) rotate(-90)">2868 (4)</text></g>
<g id="g184"><rect class="b" x="151" y="532" width="9" height="8" fill="#dd2277"/><text class="n" x="155.5" y="537.2">184</text><text class="vd" transform="translate(156.7,541.5) rotate(-90)">787 (6)</text></g>
<g id="g185"><rect class="b" x="161" y="540" width="16" height="8" fill="#2277dd"/><text class="n" x="169" y="545.2">185</text><text class="l" x="169" y="553">790 (4)</text></g>
<g id="g186"><rect class="b" x="178" y="532" width="19" height="8" fill="#dd8833"/><text class="n" x="187.5" y="537.2">186</text><text class="l" x="187.5" y="546">781 (13)</text></g>
<g id="g187"><rect class="b" x="199" y="540" width="10" height="8" fill="#aa33cc"/><text class="n" x="204" y="545.2">187</text><text class="vd" transform="translate(205.2,549.5) rotate(-90)">792 (6)</text></g>
<g id="g188"><rect class="b" x="209" y="532" width="18" height="8" fill="#88dd44"/><text class="n" x="218" y="537.2">188</text><text class="l" x="218" y="546">783 (6)</text></g>
<g id="g189"><rect class="b" x="227" y="540" width="6" height="8" fill="#99cc44"/><text class="n" x="230" y="545.2">189</text><text class="vd" transform="translate(231.2,549.5) rotate(-90)">794 (6)</text></g>
<g id="g190"><rect class="b" x="233" y="532" width="6" height="8" fill="#44aabb"/><text class="n" x="236" y="537.2">190</text><text class="vd" transform="translate(237.2,541.5) rotate(-90)">2837 (6)</text></g>
<g id="g191"><rect class="b" x="241" y="540" width="7" height="8" fill="#6633bb"/><text class="nw" x="244.5" y="545.2">191</text><text class="vd" transform="translate(245.7,549.5) rotate(-90)">795 (6)</text></g>
<g id="g192"><rect class="b" x="248" y="532" width="7" height="8" fill="#8866cc"/><text class="n" x="251.5" y="537.2">192</text><text class="vd" transform="translate(252.7,541.5) rotate(-90)">2838 (6)</text></g>
<g id="g193"><rect class="b" x="254" y="540" width="5" height="8" fill="#2255bb"/><text class="nw" x="256.5" y="545.2">193</text><text class="vd" transform="translate(257.7,549.5) rotate(-90)">796 (6)</text></g>
<g id="g194"><rect class="b" x="261" y="532" width="8" height="8" fill="#33dd66"/><text class="n" x="265" y="537.2">194</text><text class="vd" transform="translate(266.2,541.5) rotate(-90)">8009 (6)</text></g>
<g id="g195"><rect class="b" x="269" y="540" width="14" height="8" fill="#ee2244"/><text class="n" x="276" y="545.2">195</text><text class="l" x="276" y="553">2710 (21)</text></g>
<g id="g196"><rect class="b" x="284" y="532" width="6" height="8" fill="#44cc66"/><text class="n" x="287" y="537.2">196</text><text class="vd" transform="translate(288.2,541.5) rotate(-90)">2711 (6)</text></g>
<g id="g197"><rect class="b" x="290" y="540" width="8" height="8" fill="#ee2244"/><text class="n" x="294" y="545.2">197</text><text class="vd" transform="translate(295.2,549.5) rotate(-90)">7576 (1)</text></g>
<g id="g198"><rect class="b" x="298" y="532" width="5" height="8" fill="#44aaaa"/><text class="n" x="300.5" y="537.2">198</text><text class="vd" transform="translate(301.7,541.5) rotate(-90)">6481 (1)</text></g>
<g id="g199"><rect class="b" x="303" y="540" width="10" height="8" fill="#44dd88"/><text class="n" x="308" y="545.2">199</text><text class="vd" transform="translate(309.2,549.5) rotate(-90)">802 (6)</text></g>
<g id="g200"><rect class="b" x="313" y="532" width="11" height="8" fill="#22bbcc"/><text class="n" x="318.5" y="537.2">200</text><text class="vd" transform="translate(319.7,541.5) rotate(-90)">803 (6)</text></g>
<g id="g201"><rect class="b" x="324" y="540" width="9" height="8" fill="#44cc66"/><text class="n" x="328.5" y="545.2">201</text><text class="vd" transform="translate(329.7,549.5) rotate(-90)">7578 (4)</text></g>
<g id="g202"><rect class="b" x="333" y="532" width="4" height="8" fill="#5599aa"/><text class="n" x="335" y="537.2">202</text><text class="vd" transform="translate(336.2,541.5) rotate(-90)">6482 (1)</text></g>
<g id="g203"><rect class="b" x="337" y="540" width="9" height="8" fill="#7733bb"/><text class="nw" x="341.5" y="545.2">203</text><text class="vd" transform="translate(342.7,549.5) rotate(-90)">804 (6)</text></g>
<g id="g204"><rect class="b" x="348" y="532" width="5" height="8" fill="#7744bb"/><text class="n" x="350.5" y="537.2">204</text><text class="vd" transform="translate(351.7,541.5) rotate(-90)">2835 (6)</text></g>
<g id="g205"><rect class="b" x="354" y="540" width="5" height="8" fill="#22bb44"/><text class="n" x="356.5" y="545.2">205</text><text class="vd" transform="translate(357.7,549.5) rotate(-90)">2836 (6)</text></g>
<g id="g206"><rect class="b" x="359" y="532" width="6" height="8" fill="#9933cc"/><text class="n" x="362" y="537.2">206</text><text class="vd" transform="translate(363.2,541.5) rotate(-90)">3050 (6)</text></g>
<g id="g207"><rect class="b" x="366" y="540" width="13" height="8" fill="#5544cc"/><text class="nw" x="372.5" y="545.2">207</text><text class="l" x="372.5" y="553">806 (6)</text></g>
<g id="g208"><rect class="b" x="380" y="532" width="6" height="8" fill="#bb3333"/><text class="n" x="383" y="537.2">208</text><text class="vd" transform="translate(384.2,541.5) rotate(-90)">807 (6)</text></g>
<g id="g209"><rect class="b" x="386" y="540" width="7" height="8" fill="#cc22aa"/><text class="n" x="389.5" y="545.2">209</text><text class="vd" transform="translate(390.7,549.5) rotate(-90)">6224 (449)</text></g>
<g id="g210"><rect class="b" x="393" y="532" width="10" height="8" fill="#eeaa33"/><text class="n" x="398" y="537.2">210</text><text class="vd" transform="translate(399.2,541.5) rotate(-90)">808 (6)</text></g>
<g id="g211"><rect class="b" x="404" y="540" width="10" height="8" fill="#44dd77"/><text class="n" x="409" y="545.2">211</text><text class="vd" transform="translate(410.2,549.5) rotate(-90)">2714 (6)</text></g>
<g id="g212"><rect class="b" x="416" y="532" width="6" height="8" fill="#cc44cc"/><text class="n" x="419" y="537.2">212</text><text class="vd" transform="translate(420.2,541.5) rotate(-90)">2839 (6)</text></g>
<g id="g213"><rect class="b" x="423" y="540" width="6" height="8" fill="#44aa88"/><text class="n" x="426" y="545.2">213</text><text class="vd" transform="translate(427.2,549.5) rotate(-90)">2840 (6)</text></g>
<g id="g214"><rect class="b" x="432" y="532" width="6" height="8" fill="#aa66dd"/><text class="n" x="435" y="537.2">214</text><text class="vd" transform="translate(436.2,541.5) rotate(-90)">809 (6)</text></g>
<g id="g215"><rect class="b" x="438" y="540" width="9" height="8" fill="#33bb66"/><text class="n" x="442.5" y="545.2">215</text><text class="vd" transform="translate(443.7,549.5) rotate(-90)">2842 (6)</text></g>
<g id="g216"><rect class="b" x="447" y="532" width="7" height="8" fill="#fff"/><text class="n" x="450.5" y="537.2">216</text><text class="vd" transform="translate(451.7,541.5) rotate(-90)">810 (1)</text></g>
<g id="trna3"><rect x="455" y="540" width="3" height="8" fill="#222"/><text class="vd" transform="translate(457.7,549.5) rotate(-90)">811 (1)</text></g>
<g id="g218"><rect class="b" x="459" y="532" width="5" height="8" fill="#22aacc"/><text class="n" x="461.5" y="537.2">218</text><text class="vd" transform="translate(462.7,541.5) rotate(-90)">813 (6)</text></g>
</svg>
